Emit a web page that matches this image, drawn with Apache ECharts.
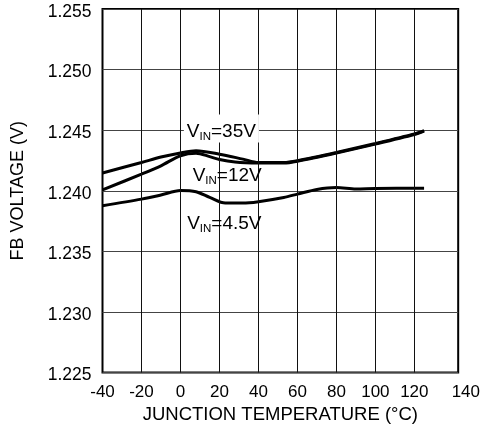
<!DOCTYPE html>
<html>
<head>
<meta charset="utf-8">
<script src="https://cdn.jsdelivr.net/npm/echarts@6/dist/echarts.min.js"></script>
<style>
html,body{margin:0;padding:0;background:#fff;}
#c{width:483px;height:431px;}
</style>
</head>
<body>
<div id="c"></div>
<script>
// ---- data ----
var temps35 = [-40, -20, -10, 0, 8, 20, 32, 40, 53, 60, 80, 100, 120, 125];
var volts35 = [1.24147, 1.24233, 1.24278, 1.24312, 1.24330, 1.24302, 1.24261, 1.24233, 1.24233, 1.24248, 1.24316, 1.24390, 1.24469, 1.24497];

var temps12 = [-40, -20, -10, 0, 8, 15, 20, 28, 40, 53, 60, 80, 100, 120, 125];
var volts12 = [1.24007, 1.24137, 1.24206, 1.24289, 1.24310, 1.24282, 1.24258, 1.24238, 1.24229, 1.24228, 1.24243, 1.24311, 1.24385, 1.24464, 1.24492];

var temps45 = [-40, -20, -10, 0, 8, 15, 23, 32, 40, 53, 60, 70, 80, 90, 100, 125];
var volts45 = [1.23876, 1.23931, 1.23965, 1.24002, 1.23992, 1.23945, 1.23898, 1.23898, 1.23910, 1.23945, 1.23972, 1.24011, 1.24027, 1.24015, 1.24019, 1.24021];

var seriesNames = ['35V', '12V', '4.5V'];
var xTickLabels = [-40, -20, 0, 20, 40, 60, 80, 100, 120, 140];
var xGridTemps = [-20, 0, 20, 40, 60, 80, 100, 120];

// label anchors in data units [temperature, voltage]
var labelAnchors = [[21, 1.24514], [24, 1.24116], [22.5, 1.23722]];

function pairs(t, v) { return t.map(function (x, i) { return [x, v[i]]; }); }

var FONT = '"Liberation Sans", Arial, sans-serif';
var richStyles = {
  v: { fontSize: 19, fontFamily: FONT, color: '#000', lineHeight: 20, verticalAlign: 'top' },
  s: { fontSize: 11.5, fontFamily: FONT, color: '#000', lineHeight: 16, verticalAlign: 'bottom' },
  t: { fontSize: 19, fontFamily: FONT, color: '#000', lineHeight: 20, verticalAlign: 'top' }
};

function vinLabel(name, anchor, withBg) {
  var lab = {
    show: true,
    position: 'inside',
    formatter: '{v|V}{s|IN}{t|=' + name + '}',
    rich: richStyles
  };
  if (withBg) {
    lab.backgroundColor = '#fff';
    lab.padding = [8, 3, 0, 3];
  }
  return {
    symbol: 'circle',
    symbolSize: 1,
    itemStyle: { color: 'rgba(0,0,0,0)' },
    label: lab,
    data: [{ coord: anchor }]
  };
}

var lineStyle = { color: '#000', width: 3 };

var option = {
  animation: false,
  backgroundColor: '#fff',
  grid: {
    left: 102.5, right: 15.5, top: 9, bottom: 58.5,
    show: true, borderColor: '#000', borderWidth: 2, backgroundColor: 'transparent'
  },
  xAxis: {
    type: 'value', min: -40, max: 142.5, interval: 20,
    name: 'JUNCTION TEMPERATURE (°C)', nameLocation: 'middle', nameGap: 27,
    nameTextStyle: { fontSize: 18.5, fontFamily: FONT, color: '#000' },
    axisLine: { show: false }, axisTick: { show: false },
    splitLine: { show: false },
    axisLabel: {
      fontSize: 17, fontFamily: FONT, color: '#000', margin: 11,
      showMaxLabel: false,
      formatter: function (v) {
        if (xTickLabels.indexOf(v) < 0) return '';
        if (v === 140) return '{r|' + v + '}';
        return String(v);
      },
      rich: { r: { fontSize: 17, fontFamily: FONT, color: '#000', padding: [0, 0, 0, 25] } }
    }
  },
  yAxis: {
    type: 'value', min: 1.225, max: 1.255, interval: 0.005,
    name: 'FB VOLTAGE (V)', nameLocation: 'middle', nameGap: 75,
    nameTextStyle: { fontSize: 18, fontFamily: FONT, color: '#000' },
    axisLine: { show: false }, axisTick: { show: false },
    splitLine: { show: true, lineStyle: { color: '#444', width: 1.2 } },
    axisLabel: {
      margin: 11,
      formatter: function (v) { return '{a|' + v.toFixed(3) + '}'; },
      rich: { a: { fontSize: 17.5, fontFamily: FONT, color: '#000', padding: [6, 0, 0, 0] } }
    }
  },
  series: [
    {
      name: 'grid', type: 'line', data: [], silent: true,
      markLine: {
        silent: true, symbol: 'none', label: { show: false },
        lineStyle: { color: '#111', width: 1, type: 'solid' },
        data: xGridTemps.map(function (t) { return { xAxis: t }; })
      }
    },
    {
      name: seriesNames[2], type: 'line', data: pairs(temps45, volts45),
      smooth: 0.3, showSymbol: false, lineStyle: lineStyle, z: 3,
      markPoint: vinLabel(seriesNames[2], labelAnchors[2], false)
    },
    {
      name: seriesNames[1], type: 'line', data: pairs(temps12, volts12),
      smooth: 0.3, showSymbol: false, lineStyle: lineStyle, z: 3,
      markPoint: vinLabel(seriesNames[1], labelAnchors[1], false)
    },
    {
      name: seriesNames[0], type: 'line', data: pairs(temps35, volts35),
      smooth: 0.3, showSymbol: false, lineStyle: lineStyle, z: 3,
      markPoint: vinLabel(seriesNames[0], labelAnchors[0], true)
    }
  ]
};

var chart = echarts.init(document.getElementById('c'), null, { renderer: 'canvas' });
chart.setOption(option);
</script>
</body>
</html>
